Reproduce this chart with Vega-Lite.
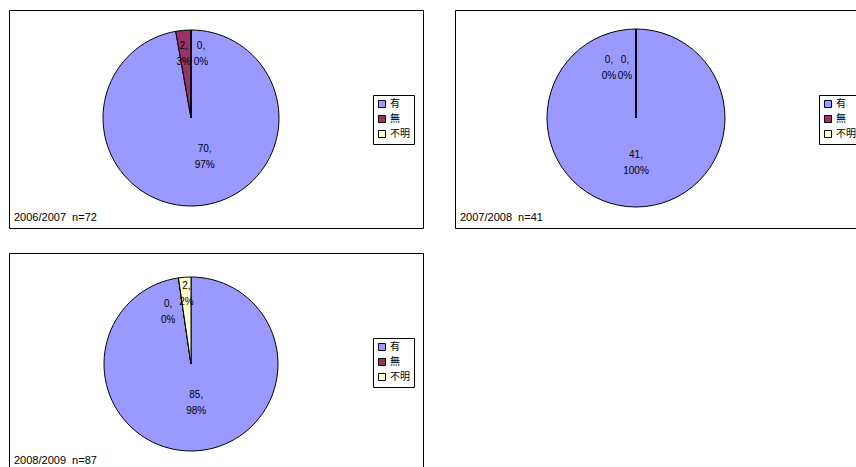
{
  "$schema": "https://vega.github.io/schema/vega-lite/v6.json",
  "padding": {"left": 8, "top": 9, "right": 0, "bottom": 0},
  "background": "white",
  "config": {
    "view": {"stroke": "black", "strokeWidth": 1},
    "font": "Liberation Sans",
    "title": {"fontSize": 11, "fontWeight": "normal", "font": "Liberation Sans", "color": "black"},
    "legend": {
      "orient": "none", "legendX": 364, "legendY": 85,
      "strokeColor": "black", "fillColor": "white", "padding": 4,
      "symbolType": "square", "symbolSize": 50, "symbolStrokeColor": "black", "symbolStrokeWidth": 1,
      "labelFont": "Noto Sans CJK JP", "labelFontSize": 10, "labelColor": "black", "rowPadding": 3, "labelOffset": 3
    }
  },
  "data": {"values": [
    {"year": "2006/2007", "k": 1, "cat": "有", "v": 70, "pct": 97},
    {"year": "2006/2007", "k": 2, "cat": "無", "v": 2, "pct": 3},
    {"year": "2006/2007", "k": 3, "cat": "不明", "v": 0, "pct": 0},
    {"year": "2007/2008", "k": 1, "cat": "有", "v": 41, "pct": 100},
    {"year": "2007/2008", "k": 2, "cat": "無", "v": 0, "pct": 0},
    {"year": "2007/2008", "k": 3, "cat": "不明", "v": 0, "pct": 0},
    {"year": "2008/2009", "k": 1, "cat": "有", "v": 85, "pct": 98},
    {"year": "2008/2009", "k": 2, "cat": "無", "v": 0, "pct": 0},
    {"year": "2008/2009", "k": 3, "cat": "不明", "v": 2, "pct": 2}
  ]},
  "transform": [{"calculate": "datum.v + ',\\n' + datum.pct + '%'", "as": "label"}],
  "spacing": 23,
  "resolve": {"scale": {"color": "independent", "theta": "independent"}, "legend": {"color": "independent"}},
  "vconcat": [
    {
      "spacing": 30,
      "resolve": {"scale": {"color": "independent", "theta": "independent"}, "legend": {"color": "independent"}},
      "hconcat": [
        {
          "width": 414, "height": 218,
          "view": {"stroke": "black", "strokeWidth": 1},
          "title": {"text": "2006/2007\u00a0 n=72", "orient": "bottom", "anchor": "start", "offset": -16, "dx": 5},
          "transform": [{"filter": "datum.year == '2006/2007'"}],
          "encoding": {
            "theta": {"field": "v", "type": "quantitative", "stack": true},
            "order": {"field": "k", "type": "quantitative"},
            "color": {"field": "cat", "type": "nominal", "title": null, "scale": {"domain": ["有", "無", "不明"], "range": ["#9999FF", "#993366", "#FFFFCC"]}}
          },
          "layer": [
            {"mark": {"type": "arc", "radius": 88, "stroke": "black", "strokeWidth": 1, "x": 182, "y": 108}},
            {"mark": {"type": "text", "fontSize": 10, "lineBreak": "\n", "lineHeight": 16, "baseline": "middle", "x": 182, "y": 108,
               "radius": {"expr": "datum.pct > 50 ? 31 : 72"},
               "dx": {"expr": "datum.cat == '有' ? 11 : datum.cat == '無' ? -1 : 10"}},
             "encoding": {"text": {"field": "label"}, "color": {"value": "black"}}}
          ]
        },
        {
          "width": 414, "height": 218,
          "view": {"stroke": "black", "strokeWidth": 1},
          "title": {"text": "2007/2008\u00a0 n=41", "orient": "bottom", "anchor": "start", "offset": -16, "dx": 5},
          "transform": [{"filter": "datum.year == '2007/2008'"}],
          "encoding": {
            "theta": {"field": "v", "type": "quantitative", "stack": true},
            "order": {"field": "k", "type": "quantitative"},
            "color": {"field": "cat", "type": "nominal", "title": null, "scale": {"domain": ["有", "無", "不明"], "range": ["#9999FF", "#993366", "#FFFFCC"]}}
          },
          "layer": [
            {"mark": {"type": "arc", "radius": 89, "stroke": "black", "strokeWidth": 1, "x": 181, "y": 108}},
            {"mark": {"type": "text", "fontSize": 10, "lineBreak": "\n", "lineHeight": 16, "baseline": "middle", "x": 181, "y": 108,
               "radius": {"expr": "datum.pct > 50 ? 37 : 58"},
               "dx": {"expr": "datum.cat == '有' ? 0 : datum.cat == '無' ? -27 : -11"}},
             "encoding": {"text": {"field": "label"}, "color": {"value": "black"}}}
          ]
        }
      ]
    },
    {
      "resolve": {"scale": {"color": "independent", "theta": "independent"}, "legend": {"color": "independent"}},
      "hconcat": [
        {
          "width": 414, "height": 218,
          "view": {"stroke": "black", "strokeWidth": 1},
          "title": {"text": "2008/2009\u00a0 n=87", "orient": "bottom", "anchor": "start", "offset": -16, "dx": 5},
          "transform": [{"filter": "datum.year == '2008/2009'"}],
          "encoding": {
            "theta": {"field": "v", "type": "quantitative", "stack": true},
            "order": {"field": "k", "type": "quantitative"},
            "color": {"field": "cat", "type": "nominal", "title": null, "scale": {"domain": ["有", "無", "不明"], "range": ["#9999FF", "#993366", "#FFFFCC"]}}
          },
          "layer": [
            {"mark": {"type": "arc", "radius": 87, "stroke": "black", "strokeWidth": 1, "x": 182, "y": 111}},
            {"mark": {"type": "text", "fontSize": 10, "lineBreak": "\n", "lineHeight": 16, "baseline": "middle", "x": 182, "y": 111,
               "radius": {"expr": "datum.pct > 50 ? 31 : datum.cat == '無' ? 61 : 78"},
               "dx": {"expr": "datum.cat == '有' ? 3 : datum.cat == '無' ? -14 : 1"}},
             "encoding": {"text": {"field": "label"}, "color": {"value": "black"}}}
          ]
        }
      ]
    }
  ]
}
